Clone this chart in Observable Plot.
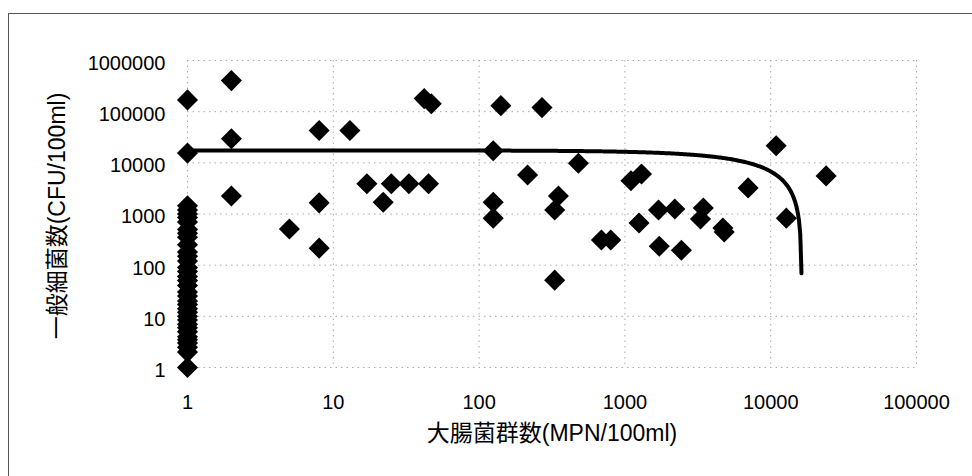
<!DOCTYPE html>
<html><head><meta charset="utf-8">
<script src="https://cdn.jsdelivr.net/npm/d3@7"></script>
<script src="https://cdn.jsdelivr.net/npm/@observablehq/plot@0.6"></script>
<style>
html,body{margin:0;background:#fff;overflow:hidden}
#wrap{position:relative;width:972px;height:476px}
#frame{position:absolute;left:8px;top:13px;width:975px;height:480px;border:1.5px solid #555;box-sizing:border-box;pointer-events:none}
</style></head><body><div id="wrap"><div id="frame"></div></div>
<script>
// 大腸菌群数 (MPN/100ml)
const coliform = [
  1,1,1,1,1,1,1,1,1,1,1,1,1,1,1,1,1,1,1,1,1,1,1,
  1,1,1,1,1,1,1,1,1,1,1,1,1,
  2,2,2,
  5,
  8,8,8,
  13,17,22,25,33,42,47,45,
  125,125,125,141,215,270,330,350,330,480,
  690,800,1100,1300,1250,1700,2200,1720,2440,3450,3300,4700,4800,
  7000,10900,12800,24000
];
// 一般細菌数 (CFU/100ml)
const bacteria = [
  170000,15500,1450,1000,700,500,350,250,180,120,90,60,40,30,20,14,10,7,5,3.5,2.5,2,1,
  1200,850,420,150,75,50,25,17,12,8.5,6,4,3,
  405000,29500,2240,
  510,
  43000,1650,215,
  43000,3900,1700,3900,3900,180000,143000,3900,
  17200,1700,830,131000,5800,120000,1200,2240,51,9800,
  310,310,4450,6050,665,1200,1250,235,196,1310,800,530,445,
  3240,21500,830,5560
];
const xTicks = [1, 10, 100, 1000, 10000, 100000];
const yTicks = [1, 10, 100, 1000, 10000, 100000, 1000000];
const xTitle = "大腸菌群数(MPN/100ml)";
const yTitle = "一般細菌数(CFU/100ml)";
// linear trendline y = trendB - trendA * x (drawn until it reaches ~0)
const trendB = 17500;
const trendA = 1.072;
const trendEndX = 16260;

const data = coliform.map((x, i) => ({x, y: bacteria[i]}));
const trend = d3.range(0, 1.00001, 0.002).map(t => {
  const x = Math.pow(trendEndX, t);
  return {x, y: trendB - trendA * x};
});

const font = "'Liberation Sans', Arial, 'Noto Sans CJK JP', sans-serif";
const chart = Plot.plot({
  width: 972, height: 476,
  marginLeft: 187, marginRight: 56, marginTop: 60, marginBottom: 109,
  style: {fontFamily: font, fontSize: "20px", color: "#000", background: "transparent", overflow: "visible"},
  x: {type: "log", domain: [1, 1e5]},
  y: {type: "log", domain: [1, 1e6]},
  marks: [
    Plot.ruleY(yTicks, {y: d => d, stroke: "#aaa", strokeDasharray: "1.5,4", strokeWidth: 1}),
    Plot.ruleX(xTicks, {x: d => d, stroke: "#aaa", strokeDasharray: "1.5,4", strokeWidth: 1}),
    Plot.axisX({ticks: xTicks, tickFormat: d => String(d), tickSize: 0, tickPadding: 27, fontSize: 20, label: null}),
    Plot.axisY({ticks: yTicks, tickFormat: d => String(d), tickSize: 0, tickPadding: 22, fontSize: 20, label: null, dy: 3}),
    Plot.line(trend, {x: "x", y: "y", stroke: "#000", strokeWidth: 4}),
    Plot.dot(data, {x: "x", y: "y", symbol: "diamond2", r: 9.5, fill: "#000", stroke: "none"}),
    Plot.text([xTitle], {frameAnchor: "bottom", dy: 73, fontSize: 23, fill: "#000"}),
    Plot.text([yTitle], {frameAnchor: "left", textAnchor: "middle", dx: -130, dy: 2, rotate: -90, fontSize: 23, fill: "#000"})
  ]
});
document.getElementById("wrap").prepend(chart);
</script>
</body></html>
